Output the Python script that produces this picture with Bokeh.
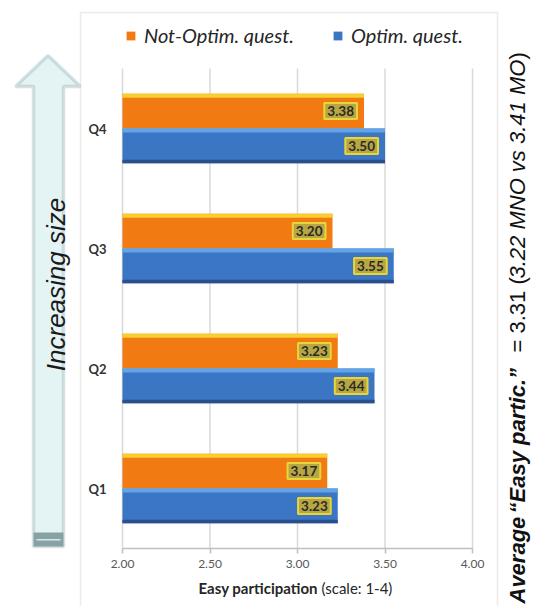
from math import pi

from bokeh.core.properties import value
from bokeh.embed import file_html
from bokeh.models import (BoxAnnotation, ColumnDataSource, FactorRange, FixedTicker,
                          Label, Legend, LegendItem, NumeralTickFormatter,
                          PolyAnnotation, Range1d)
from bokeh.plotting import figure
from bokeh.resources import INLINE
from bokeh.transform import dodge

# ---- data -------------------------------------------------------------
questions = ["Q1", "Q2", "Q3", "Q4"]
not_optim = [3.17, 3.23, 3.20, 3.38]
optim = [3.23, 3.44, 3.55, 3.50]
series_names = ["Not-Optim. quest.", "Optim. quest."]
x_ticks = [2.0, 2.5, 3.0, 3.5, 4.0]
x_start, x_end = 2.0, 4.0
axis_title_bold = "Easy participation"
axis_title_rest = "(scale: 1-4)"
arrow_text = "Increasing size"
# side note, split by font style
note_parts = [
    ("Average", "bold italic"),
    ("\u201cEasy partic.\u201d", "bold italic"),
    ("= 3.31 (", "normal"),
    ("3.22 MNO vs 3.41 MO", "italic"),
    (")", "normal"),
]

# ---- layout (canvas pixels) ------------------------------------------
W, H = 535, 606
# the plotting frame spans the page so the decorations around the chart
# (arrow, side note, legend, box) can live inside it
TOP = 10
PX_PER_UNIT = 175.0          # horizontal pixels per scale point
X0_PX = 122                  # canvas x of the value 2.00
BAND_PX = 120.0              # height of one question band
PLOT_TOP, PLOT_BOTTOM = 68, 548
pad_units = (PLOT_TOP - TOP) / BAND_PX


def fx(X):
    """canvas x -> frame-relative screen x"""
    return X


def fy(Y):
    """canvas y (from top) -> frame-relative screen y (up)"""
    return H - Y


src = ColumnDataSource(dict(
    q=questions,
    no=not_optim,
    o=optim,
    no_lbl=[f"{v:.2f}" for v in not_optim],
    o_lbl=[f"{v:.2f}" for v in optim],
))

x_range = Range1d(x_start - X0_PX / PX_PER_UNIT, x_start + (W - X0_PX) / PX_PER_UNIT)
y_range = FactorRange(factors=questions, range_padding=pad_units,
                      range_padding_units="absolute")

p = figure(width=W, height=H, title=None, x_range=x_range, y_range=y_range,
           output_backend="svg", toolbar_location=None,
           min_border_left=0, min_border_right=0,
           min_border_top=TOP, min_border_bottom=0)
p.outline_line_color = None
p.background_fill_color = "white"
p.border_fill_color = "white"
p.xgrid.grid_line_color = None
p.ygrid.grid_line_color = None

# ---- axes ---------------------------------------------------------------
xa = p.xaxis[0]
xa.fixed_location = 0            # bottom edge of the Q1 band
xa.bounds = (x_start, x_end)
xa.ticker = FixedTicker(ticks=x_ticks)
xa.formatter = NumeralTickFormatter(format="0.00")
xa.axis_line_color = "#BFBFBF"
xa.axis_line_width = 1.5
xa.major_tick_line_color = "#BFBFBF"
xa.major_tick_line_width = 1.5
xa.major_tick_out = 5
xa.major_tick_in = 0
xa.minor_tick_line_color = None
xa.major_label_standoff = 6
xa.major_label_text_font = "Lato"
xa.major_label_text_font_size = "12px"
xa.major_label_text_color = "#595959"

ya = p.yaxis[0]
ya.fixed_location = x_start
ya.axis_line_color = None
ya.major_tick_line_color = None
ya.minor_tick_line_color = None
ya.major_label_standoff = 10
ya.major_label_text_font = "Lato"
ya.major_label_text_font_style = "bold"
ya.major_label_text_font_size = "13px"
ya.major_label_text_color = "#333333"

# vertical grid lines across the question bands
p.segment(x0=x_ticks, x1=x_ticks, y0=0, y1=len(questions),
          line_color="#D9D9D9", line_width=1.5, level="underlay")

# ---- bars --------------------------------------------------------------
OFF, BH = 0.145, 0.29
yr = p.y_range

r_no = p.hbar(y=dodge("q", OFF, range=yr), left=x_start, right="no", height=BH,
              source=src, fill_color="#F27A12", line_color=None)
p.hbar(y=dodge("q", OFF + BH / 2 - 0.017, range=yr), left=x_start, right="no",
       height=0.034, source=src, fill_color="#F7CF2E", line_color=None)

r_o = p.hbar(y=dodge("q", -OFF, range=yr), left=x_start, right="o", height=BH,
             source=src, fill_color="#3A76C4", line_color=None)
p.hbar(y=dodge("q", -OFF + BH / 2 - 0.017, range=yr), left=x_start, right="o",
       height=0.034, source=src, fill_color="#62A4E8", line_color=None)
p.hbar(y=dodge("q", -OFF - BH / 2 + 0.015, range=yr), left=x_start, right="o",
       height=0.03, source=src, fill_color="#2A4F8C", line_color=None)

# value boxes at the bar ends
lbl_style = dict(text_align="right", text_baseline="middle", x_offset=-7,
                 text_font=value("Lato"), text_font_style="bold",
                 text_font_size="13.5px", text_color="#2A2A2A",
                 background_fill_color="#B7A642", border_line_color="#E6D63C",
                 border_line_width=2, padding=3)
p.text(x="no", y=dodge("q", OFF, range=yr), text="no_lbl", source=src, **lbl_style)
p.text(x="o", y=dodge("q", -OFF, range=yr), text="o_lbl", source=src, **lbl_style)

# ---- legend (above the bars) -------------------------------------------
legend = Legend(items=[LegendItem(label=series_names[0], renderers=[r_no]),
                       LegendItem(label=series_names[1], renderers=[r_o])],
                orientation="horizontal", location=(fx(125), fy(47)),
                glyph_width=11, glyph_height=11, label_standoff=8, spacing=38,
                padding=0, margin=0, border_line_color=None,
                background_fill_alpha=0,
                label_text_font="Lato", label_text_font_style="italic",
                label_text_font_size="20px", label_text_color="#262626",
                label_height=22)
p.add_layout(legend)

# ---- x axis title (two styles) ----------------------------------------
p.add_layout(Label(x=fx(198), y=fy(587), x_units="screen", y_units="screen",
                   text=axis_title_bold, text_font="Lato", text_font_style="bold",
                   text_font_size="15px", text_color="#262626",
                   text_baseline="middle", text_align="left"))
p.add_layout(Label(x=fx(321), y=fy(587), x_units="screen", y_units="screen",
                   text=axis_title_rest, text_font="Lato", text_font_style="normal",
                   text_font_size="15px", text_color="#262626",
                   text_baseline="middle", text_align="left"))

# ---- chart box ------------------------------------------------------
p.add_layout(BoxAnnotation(left=fx(80), right=fx(497), top=fy(12), bottom=fy(640),
                           left_units="screen", right_units="screen",
                           top_units="screen", bottom_units="screen",
                           fill_alpha=0, line_color="#BDBDBD", line_width=1.5,
                           level="underlay"))

# ---- "increasing size" arrow -----------------------------------------
arrow_X = [47.5, 80, 63, 63, 33, 33, 15]
arrow_Y = [55, 86, 86, 546, 546, 86, 86]
p.add_layout(PolyAnnotation(xs=[fx(v) for v in arrow_X], ys=[fy(v) for v in arrow_Y],
                            xs_units="screen", ys_units="screen",
                            fill_color="#E4F4F4", fill_alpha=1,
                            line_color="#7E9C9E", line_width=3.5))
p.add_layout(BoxAnnotation(left=fx(33), right=fx(63), top=fy(532), bottom=fy(546),
                           left_units="screen", right_units="screen",
                           top_units="screen", bottom_units="screen",
                           fill_color="#86A2A4", fill_alpha=1, line_color=None))
p.add_layout(BoxAnnotation(left=fx(36), right=fx(60), top=fy(538.5), bottom=fy(540),
                           left_units="screen", right_units="screen",
                           top_units="screen", bottom_units="screen",
                           fill_color="#D8E8E8", fill_alpha=1, line_color=None))
p.add_layout(Label(x=fx(55), y=fy(284), x_units="screen", y_units="screen",
                   text=arrow_text, angle=pi / 2, text_align="center",
                   text_baseline="middle", text_font="Liberation Sans",
                   text_font_style="italic", text_font_size="26px",
                   text_color="#1A1A1A"))

# ---- side note (rotated, reads bottom to top) --------------------------
note_starts = [603, 513, 352, 278, 59]
for (txt, style), Y in zip(note_parts, note_starts):
    p.add_layout(Label(x=fx(517), y=fy(Y), x_units="screen", y_units="screen",
                       text=txt, angle=pi / 2, text_align="left",
                       text_baseline="middle", text_font="Liberation Sans",
                       text_font_style=style, text_font_size="22px",
                       text_color="#111111"))

open("out.html", "w").write(file_html(p, INLINE))
